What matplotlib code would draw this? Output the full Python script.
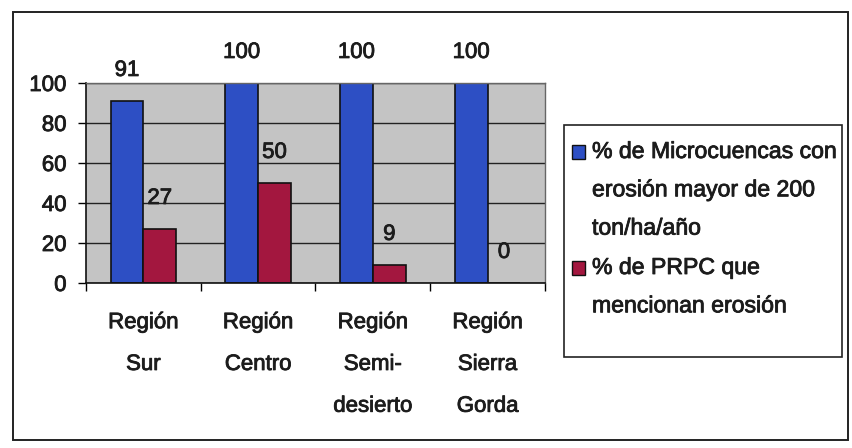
import numpy as np
import matplotlib.pyplot as plt
from matplotlib.patches import Rectangle
import matplotlib.patheffects as pe

plt.rcParams['font.family'] = ['Liberation Sans', 'DejaVu Sans']

# Data
categories = ["Región\nSur", "Región\nCentro", "Región\nSemi-\ndesierto", "Región\nSierra\nGorda"]
microcuencas = [91, 100, 100, 100]
prpc = [27, 50, 9, 0]
series_names = ["% de Microcuencas con\nerosión mayor de 200\nton/ha/año",
                "% de PRPC que\nmencionan erosión"]

blue = "#2d4fc4"
red = "#a3173f"
txt = "#1c1c1c"
fs = 16
heavy = [pe.withStroke(linewidth=0.6, foreground=txt)]

W, H = 853, 448
fig = plt.figure(figsize=(W / 100, H / 100), dpi=100)


def fx(v):
    return v / W


def fy(v):
    return 1 - v / H


# outer chart frame
fig.patches.append(Rectangle((fx(13), fy(440)), (848 - 13) / W, (440 - 12) / H,
                             transform=fig.transFigure, fill=False, edgecolor="#222222", lw=1.4))

ax = fig.add_axes([fx(86), fy(283), (545 - 86) / W, (283 - 83) / H])
ax.set_facecolor("#c4c4c4")

x = np.arange(len(categories))
w = 0.2857
b1 = ax.bar(x - w / 2, microcuencas, w, color=blue, edgecolor="#111111", lw=1.2)
b2 = ax.bar(x + w / 2, prpc, w, color=red, edgecolor="#111111", lw=1.2)

for bars, vals in ((b1, microcuencas), (b2, prpc)):
    for r, v in zip(bars, vals):
        ax.annotate(str(v), (r.get_x() + r.get_width() / 2, v), xytext=(0, 22),
                    textcoords="offset points", ha="center", va="center",
                    fontsize=fs, color=txt, path_effects=heavy)

ax.set_xlim(-0.5, len(categories) - 0.5)
ax.set_ylim(0, 100)
ax.set_yticks(np.arange(0, 101, 20))
ax.yaxis.grid(True, color="#222222", lw=1.0)
ax.set_axisbelow(True)
ax.tick_params(axis="y", direction="out", length=6, width=1, labelsize=fs, pad=8, labelcolor=txt)

# category separators as ticks, labels at centres
ax.set_xticks(np.arange(-0.5, len(categories), 1.0))
ax.set_xticklabels([])
ax.set_xticks(x, minor=True)
ax.set_xticklabels(categories, minor=True, fontsize=fs, color=txt)
ax.tick_params(axis="x", which="major", direction="out", length=6, width=1)
ax.tick_params(axis="x", which="minor", length=0, pad=21)
for t in ax.get_xticklabels(minor=True):
    t.set_linespacing(2.3)
    t.set_path_effects(heavy)
for t in ax.get_yticklabels():
    t.set_path_effects(heavy)

for s in ("left", "bottom"):
    ax.spines[s].set_color("#111111")
    ax.spines[s].set_linewidth(1.2)
for s in ("top", "right"):
    ax.spines[s].set_color("#666666")
    ax.spines[s].set_linewidth(1.0)

# legend
fig.patches.append(Rectangle((fx(564), fy(357)), (842 - 564) / W, (357 - 125) / H,
                             transform=fig.transFigure, fill=False, edgecolor="#222222", lw=1.2))
entry_top = [152, 268]
for name, col, yc in zip(series_names, (blue, red), entry_top):
    fig.patches.append(Rectangle((fx(572), fy(yc + 7)), 13 / W, 14 / H, transform=fig.transFigure,
                                 facecolor=col, edgecolor="#111111", lw=1.0))
    fig.text(fx(592), fy(yc - 12), name, ha="left", va="top", fontsize=16.6, linespacing=1.85,
             color=txt, path_effects=heavy)

fig.savefig("out.png", dpi=100)
